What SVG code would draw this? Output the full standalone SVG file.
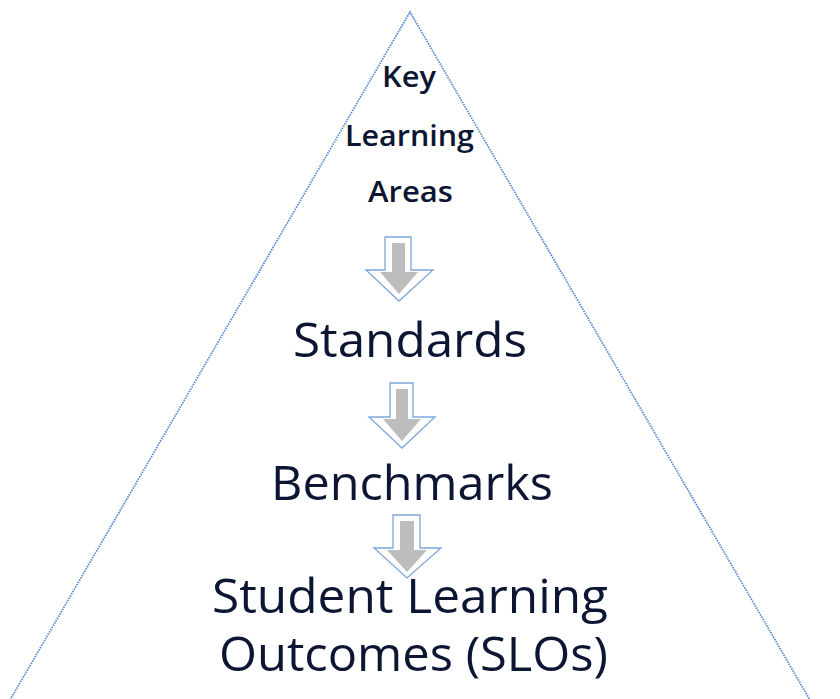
<svg xmlns="http://www.w3.org/2000/svg" width="840" height="699" viewBox="0 0 840 699">
<style>
.tri{fill:none;stroke:#5b8fd6;stroke-width:1.8;stroke-dasharray:1.6 1}
.outer{fill:#ffffff;stroke:#7ea6dc;stroke-width:1.3}
.inner{fill:#bdbdbd}
.t{font-family:"Open Sans","Noto Sans","Liberation Sans",sans-serif;fill:#0c1632;text-anchor:middle}
.small{font-size:28px;font-weight:600}
.big{font-size:48px;font-weight:500}
</style>
<rect width="840" height="699" fill="#ffffff"/>
<g id="pyramid">
<polyline class="tri" points="10,700 410,12 810,700"/>
</g>
<g id="connectors">
<g id="arrow1">
<polygon class="outer" points="385,237 411,237 411,270 433,270 399,301 366,270 385,270"/>
<polygon class="inner" points="392,243 405,243 405,272 418,272 399,294 380,272 392,272"/>
</g>
<g id="arrow2">
<polygon class="outer" points="390,383 413,383 413,417 435,417 402,448 369,417 390,417"/>
<polygon class="inner" points="396,389 408,389 408,419 421,419 402,441 383,419 396,419"/>
</g>
<g id="arrow3">
<polygon class="outer" points="393,515 420,515 420,548 441,548 407,578 374,548 393,548"/>
<polygon class="inner" points="400,521 414,521 414,550 427,550 407,572 387,550 400,550"/>
</g>
</g>
<g id="node-kla">
<text class="t small" x="409" y="87" textLength="54" lengthAdjust="spacingAndGlyphs">Key</text>
<text class="t small" x="409.5" y="146" textLength="129" lengthAdjust="spacingAndGlyphs">Learning</text>
<text class="t small" x="410.5" y="202" textLength="85" lengthAdjust="spacingAndGlyphs">Areas</text>
</g>
<g id="node-standards">
<text class="t big" x="410" y="357" textLength="234" lengthAdjust="spacingAndGlyphs">Standards</text>
</g>
<g id="node-benchmarks">
<text class="t big" x="412" y="500" textLength="282" lengthAdjust="spacingAndGlyphs">Benchmarks</text>
</g>
<g id="node-slos">
<text class="t big" x="410" y="613" textLength="396" lengthAdjust="spacingAndGlyphs">Student Learning</text>
<text class="t big" x="413.5" y="671" textLength="389" lengthAdjust="spacingAndGlyphs">Outcomes (SLOs)</text>
</g>
</svg>
